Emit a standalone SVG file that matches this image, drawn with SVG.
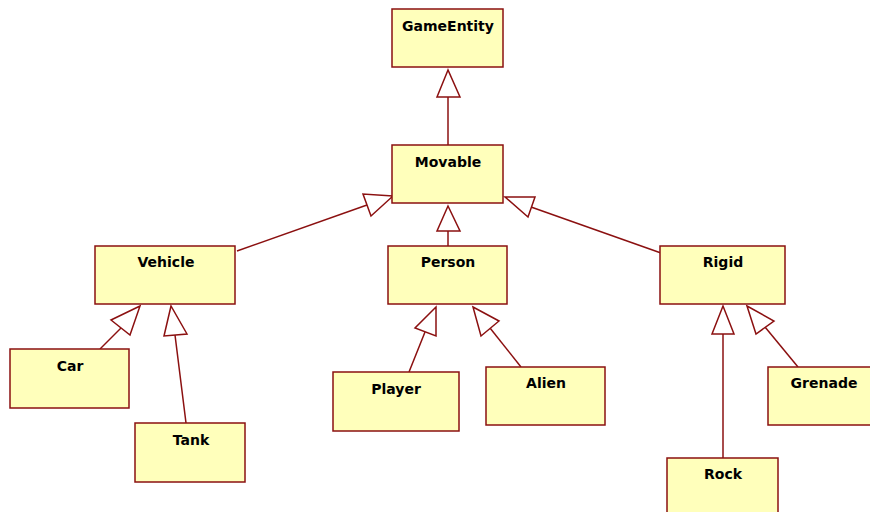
<svg xmlns="http://www.w3.org/2000/svg" width="870" height="512" viewBox="0 0 870 512">
  <style>
    .cls rect { fill: #FFFFBB; stroke: #8B1010; stroke-width: 1.5; }
    .cls text { font-family: "DejaVu Sans", Verdana, sans-serif; font-weight: bold; font-size: 14px; fill: #000; text-anchor: middle; }
    .gen line { stroke: #8B1010; stroke-width: 1.5; fill: none; }
    .gen polygon { stroke: #8B1010; stroke-width: 1.5; fill: #FFFFFF; stroke-linejoin: miter; }
  </style>
  <rect width="870" height="512" fill="#FFFFFF"/>

  <!-- generalization connectors: child line + hollow triangle at parent -->
  <g id="connectors" class="gen">
    <!-- Movable -> GameEntity -->
    <line x1="448" y1="145" x2="448" y2="97"/>
    <polygon points="448,70 437,97 460,97"/>
    <!-- Vehicle -> Movable -->
    <line x1="237" y1="251" x2="367" y2="205"/>
    <polygon points="393,196 363,194 371,216"/>
    <!-- Person -> Movable -->
    <line x1="448" y1="246" x2="448" y2="231"/>
    <polygon points="448,206 437,231 460,231"/>
    <!-- Rigid -> Movable -->
    <line x1="661" y1="253" x2="531" y2="207"/>
    <polygon points="505,197 535,197 528,217"/>
    <!-- Car -> Vehicle -->
    <line x1="100" y1="349" x2="121" y2="328"/>
    <polygon points="140,306 111,320 130,335"/>
    <!-- Tank -> Vehicle -->
    <line x1="186" y1="423" x2="175" y2="335"/>
    <polygon points="171,306 164,336 187,334"/>
    <!-- Player -> Person -->
    <line x1="409" y1="372" x2="425" y2="332"/>
    <polygon points="436,307 415,328 436,336"/>
    <!-- Alien -> Person -->
    <line x1="521" y1="367" x2="490" y2="328"/>
    <polygon points="473,307 499,321 481,336"/>
    <!-- Rock -> Rigid -->
    <line x1="723" y1="458" x2="723" y2="334"/>
    <polygon points="723,306 712,334 734,334"/>
    <!-- Grenade -> Rigid -->
    <line x1="798" y1="367" x2="765" y2="327"/>
    <polygon points="747,306 774,321 756,334"/>
  </g>

  <g id="GameEntity" class="cls">
    <rect x="392" y="9" width="111" height="58"/>
    <text x="448" y="31">GameEntity</text>
  </g>
  <g id="Movable" class="cls">
    <rect x="392" y="145" width="111" height="58"/>
    <text x="448" y="167">Movable</text>
  </g>
  <g id="Vehicle" class="cls">
    <rect x="95" y="246" width="140" height="58"/>
    <text x="166" y="267">Vehicle</text>
  </g>
  <g id="Person" class="cls">
    <rect x="388" y="246" width="119" height="58"/>
    <text x="448" y="267">Person</text>
  </g>
  <g id="Rigid" class="cls">
    <rect x="660" y="246" width="125" height="58"/>
    <text x="723" y="267">Rigid</text>
  </g>
  <g id="Car" class="cls">
    <rect x="10" y="349" width="119" height="59"/>
    <text x="70" y="371">Car</text>
  </g>
  <g id="Tank" class="cls">
    <rect x="135" y="423" width="110" height="59"/>
    <text x="191" y="445">Tank</text>
  </g>
  <g id="Player" class="cls">
    <rect x="333" y="372" width="126" height="59"/>
    <text x="396" y="394">Player</text>
  </g>
  <g id="Alien" class="cls">
    <rect x="486" y="367" width="119" height="58"/>
    <text x="546" y="388">Alien</text>
  </g>
  <g id="Grenade" class="cls">
    <rect x="768" y="367" width="112" height="58"/>
    <text x="824" y="388">Grenade</text>
  </g>
  <g id="Rock" class="cls">
    <rect x="667" y="458" width="111" height="58"/>
    <text x="723" y="479">Rock</text>
  </g>
</svg>
